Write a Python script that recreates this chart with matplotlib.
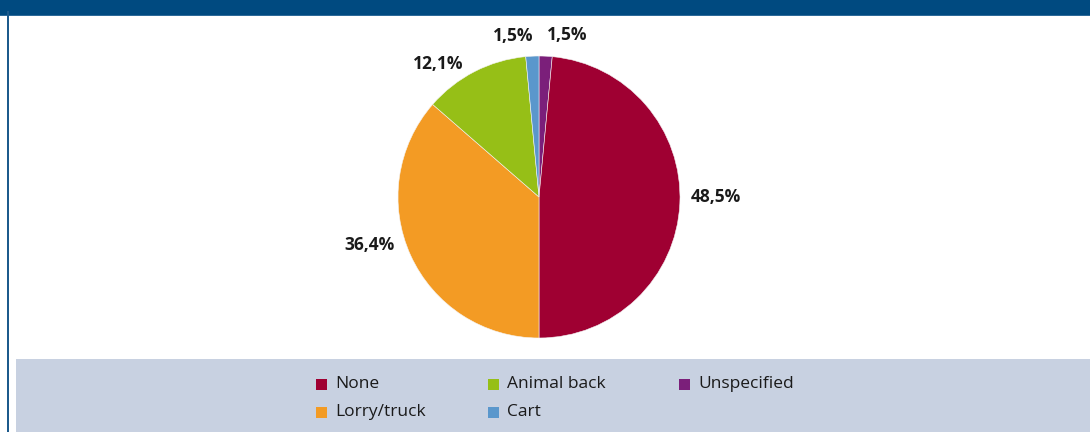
import matplotlib
matplotlib.use("Agg")
import matplotlib.pyplot as plt
from matplotlib.patches import Rectangle

# Transport means shares (%), drawn clockwise from 12 o'clock
categories = ["Unspecified", "None", "Lorry/truck", "Animal back", "Cart"]
shares = [1.5, 48.5, 36.4, 12.1, 1.5]
value_labels = ["1,5%", "48,5%", "36,4%", "12,1%", "1,5%"]
colors = ["#7b1f7a", "#9f0032", "#f39b24", "#96bf17", "#5a97cc"]

# Legend order (column-major, three columns)
legend_order = ["None", "Lorry/truck", "Animal back", "Cart", "Unspecified"]

W, H = 1090, 432
fig = plt.figure(figsize=(W / 100, H / 100), dpi=100)
fig.patch.set_facecolor("white")

def fx(px):
    return px / W

def fy(py):
    return 1 - py / H

# Frame: header band, left rule and legend panel
fig.patches.append(Rectangle((0, fy(15)), 1, 15 / H, transform=fig.transFigure,
                             facecolor="#004a80", edgecolor="none", zorder=0))
fig.patches.append(Rectangle((0, fy(16)), 1, 1.2 / H, transform=fig.transFigure,
                             facecolor="#2d6a99", edgecolor="none", zorder=0))
fig.patches.append(Rectangle((fx(7), 0), 1.6 / W, fy(11), transform=fig.transFigure,
                             facecolor="#1c5a8c", edgecolor="none", zorder=0))
fig.patches.append(Rectangle((fx(16), 0), 1 - fx(16), fy(359), transform=fig.transFigure,
                             facecolor="#c8d1e1", edgecolor="none", zorder=0))

# Pie
cx, cy, r = 539, 197, 141
ax = fig.add_axes([fx(cx - r), fy(cy + r), 2 * r / W, 2 * r / H])
ax.pie(shares, colors=colors, startangle=90, counterclock=False, radius=1.0,
       wedgeprops=dict(linewidth=0.4, edgecolor="#f4f4f4"))
ax.set_xlim(-1, 1)
ax.set_ylim(-1, 1)
ax.set_aspect("equal")
ax.axis("off")

# Value labels placed outside the slices (axes data units)
label_pos = [(0.199, 1.146), (1.255, 0.0), (-1.199, -0.34), (-0.716, 0.94), (-0.184, 1.14)]
for (x, y), txt in zip(label_pos, value_labels):
    ax.text(x, y, txt, ha="center", va="center", fontsize=12.5, fontweight="bold",
            family="Open Sans", color="#1a1a1a", clip_on=False)

# Legend drawn as swatches and labels on the panel
col_x = [316, 488, 679]
row_y = [384, 412]
color_of = dict(zip(categories, colors))
for i, name in enumerate(legend_order):
    col, row = divmod(i, 2)
    x0, y0 = col_x[col], row_y[row]
    fig.patches.append(Rectangle((fx(x0), fy(y0 + 5.5)), 11 / W, 11 / H,
                                 transform=fig.transFigure,
                                 facecolor=color_of[name], edgecolor="none"))
    fig.text(fx(x0 + 19), fy(y0), name, ha="left", va="center", fontsize=12.5,
             family="Open Sans", color="#1a1a1a")

fig.savefig("out.png", dpi=100, facecolor=fig.get_facecolor())
